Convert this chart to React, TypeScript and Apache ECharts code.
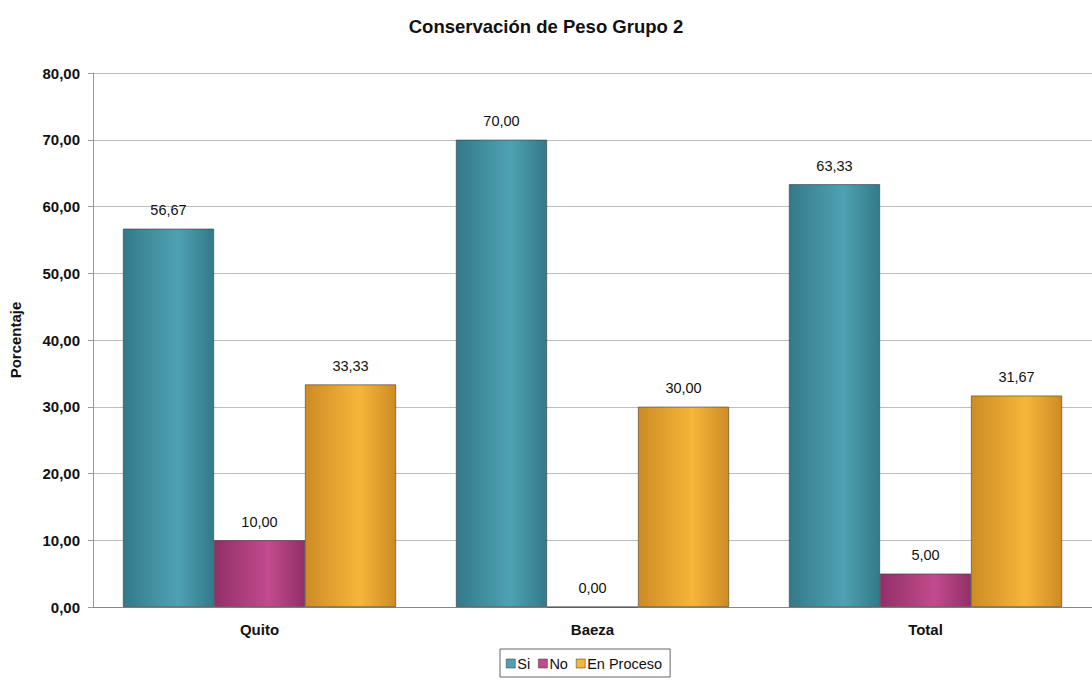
import React, { useEffect, useRef } from "react";
import * as echarts from "echarts";

const categories = ["Quito", "Baeza", "Total"];
const seriesNames = ["Si", "No", "En Proceso"];
const siValues = [56.67, 70.0, 63.33];
const noValues = [10.0, 0.0, 5.0];
const procesoValues = [33.33, 30.0, 31.67];
const yTicks = [0, 10, 20, 30, 40, 50, 60, 70, 80];

const fmt = (v: number) => v.toFixed(2).replace(".", ",");

const grad = (edge: string, mid: string) =>
  new echarts.graphic.LinearGradient(0, 0, 1, 0, [
    { offset: 0, color: edge },
    { offset: 0.6, color: mid },
    { offset: 1, color: edge },
  ]);

export default function App() {
  const ref = useRef<HTMLDivElement>(null);
  useEffect(() => {
    if (!ref.current) return;
    const chart = echarts.init(ref.current, undefined, { renderer: "svg" });
    const font = "Arial, 'Liberation Sans', sans-serif";
    const colors = [
      ["#33798a", "#4fa2b3"],
      ["#912f68", "#c24b8d"],
      ["#cd8c24", "#f5b63a"],
    ];
    const data = [siValues, noValues, procesoValues];
    chart.setOption({
      animation: false,
      backgroundColor: "#ffffff",
      textStyle: { fontFamily: font },
      title: {
        text: "Conservación de Peso Grupo 2",
        left: "center",
        top: 12,
        textStyle: { fontSize: 18.5, fontWeight: "bold", color: "#111", fontFamily: font },
      },
      legend: {
        top: 649,
        left: 500,
        itemWidth: 9,
        itemHeight: 9,
        itemGap: 8,
        icon: "rect",
        padding: [7, 8, 6, 6],
        borderColor: "#666",
        borderWidth: 1,
        borderRadius: 0,
        textStyle: { fontSize: 14.5, color: "#111", fontFamily: font, padding: [0, 0, 0, -3] },
        data: seriesNames.map((n, i) => ({ name: n, itemStyle: { color: colors[i][1], borderColor: "#333", borderWidth: 0.5 } })),
      },
      grid: { left: 86, top: 73, width: 1014, height: 534, containLabel: false },
      xAxis: {
        type: "category",
        data: categories,
        axisLine: { lineStyle: { color: "#888" } },
        axisTick: { show: false },
        axisLabel: { fontSize: 15, fontWeight: "bold", color: "#111", margin: 15 },
      },
      yAxis: {
        type: "value",
        min: yTicks[0],
        max: yTicks[yTicks.length - 1],
        interval: 10,
        name: "Porcentaje",
        nameLocation: "middle",
        nameGap: 70,
        nameTextStyle: { fontSize: 15, fontWeight: "bold", color: "#111" },
        axisLine: { show: true, lineStyle: { color: "#999" } },
        axisTick: { show: true, inside: false, length: 5, lineStyle: { color: "#999" } },
        axisLabel: {
          fontSize: 15,
          fontWeight: "bold",
          color: "#111",
          margin: 13,
          formatter: (v: number) => fmt(v),
        },
        splitLine: { lineStyle: { color: "#bdbdbd", width: 1 } },
      },
      series: seriesNames.map((name, i) => ({
        name,
        type: "bar",
        data: data[i],
        barGap: "0%",
        barCategoryGap: "18%",
        itemStyle: {
          color: grad(colors[i][0], colors[i][1]),
          borderColor: "#3a3a3a",
          borderWidth: 0.6,
        },
        label: {
          show: true,
          position: "top",
          distance: 11,
          fontSize: 14.5,
          color: "#111",
          formatter: (p: any) => fmt(p.value),
        },
      })),
    });
    return () => chart.dispose();
  }, []);
  return (
    <div
      ref={ref}
      style={{ position: "absolute", left: 0, top: 0, width: 1092, height: 682 }}
    />
  );
}
